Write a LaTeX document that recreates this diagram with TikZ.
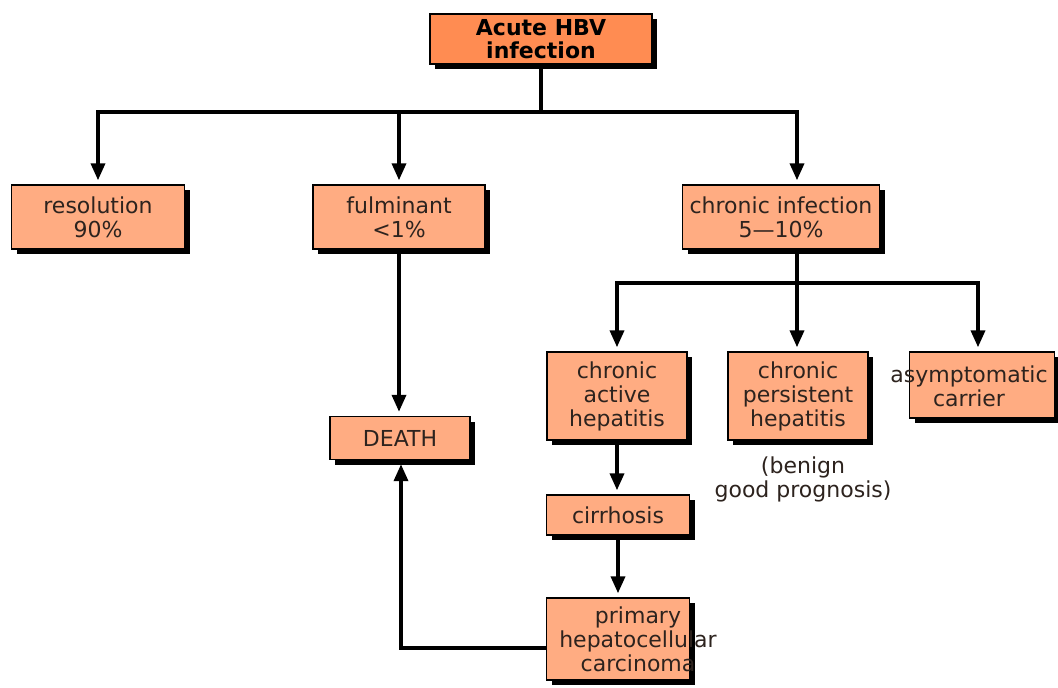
\documentclass[tikz,border=0pt]{standalone}
\usepackage{fontspec}
\setmainfont{DejaVu Sans}
\usetikzlibrary{arrows.meta,shadows}
\definecolor{boxfill}{RGB}{255,172,130}
\definecolor{topfill}{RGB}{255,140,82}
\definecolor{ink}{RGB}{45,35,30}
\tikzset{
  bx/.style={draw=black, line width=1.4pt, fill=boxfill, align=center, text=ink,
    font=\fontsize{22}{24}\selectfont, inner sep=0pt,
    drop shadow={shadow xshift=5pt, shadow yshift=-5pt, fill=black, opacity=1}},
  txt/.style={align=center, text=ink, font=\fontsize{22}{24}\selectfont, inner sep=0pt},
  ln/.style={line width=3.6pt},
  arr/.style={line width=3.6pt, shorten >=4pt, -{Triangle[width=14pt,length=17pt]}}
}
\begin{document}
\begin{tikzpicture}[x=1pt,y=-1pt]
\useasboundingbox[fill=white] (0,0) rectangle (1058,688);
\node[bx, fill=topfill, text=black, minimum width=222pt, minimum height=50pt, font=\fontsize{22}{23}\selectfont\bfseries] (top) at (541,39) {Acute HBV\\infection};
\node[bx, minimum width=173pt, minimum height=64pt] (res) at (98,217) {resolution\\90\%};
\node[bx, minimum width=172pt, minimum height=64pt] (ful) at (399,217) {fulminant\\<1\%};
\node[bx, minimum width=197pt, minimum height=64pt] (chr) at (781,217) {chronic infection\\5—10\%};
\node[bx, minimum width=140pt, minimum height=43pt] (death) at (400,438) {DEATH};
\node[bx, minimum width=140pt, minimum height=88pt] (cah) at (617,396) {chronic\\active\\hepatitis};
\node[bx, minimum width=140pt, minimum height=88pt] (cph) at (798,396) {chronic\\persistent\\hepatitis};
\node[bx, minimum width=145pt, minimum height=66pt] (asy) at (982,385) {};
\node[txt] (asyT) at (969,386) {asymptomatic\\carrier};
\node[txt] (ben) at (803,479) {(benign\\good prognosis)};
\node[bx, minimum width=143pt, minimum height=40pt] (cir) at (618,515) {cirrhosis};
\node[bx, minimum width=143pt, minimum height=82pt] (car) at (618,639) {};
\node[txt] (carT) at (638,639) {primary\\hepatocellular\\carcinoma};
\coordinate (h1) at (541,112);
\coordinate (h2) at (797,283);
\draw[ln] (top.south) -- (h1);
\draw[arr] (h1) -| (res.north);
\draw[arr] (h1) -| ([xshift=16pt]chr.north);
\draw[arr] (ful.north |- h1) -- (ful.north);
\draw[arr] (ful.south) -- (death.north -| ful.south);
\draw[ln] ([xshift=16pt]chr.south) -- (h2);
\draw[arr] (h2) -| (cah.north);
\draw[arr] (h2) -| ([xshift=-4pt]asy.north);
\draw[arr] (h2) -- (h2 |- cph.north);
\draw[arr] (cah.south) -- (cah.south |- cir.north);
\draw[arr] (cir.south) -- (cir.south |- car.north);
\draw[arr] ([yshift=-9pt]car.west) -| ([xshift=1pt]death.south);
\end{tikzpicture}
\end{document}
